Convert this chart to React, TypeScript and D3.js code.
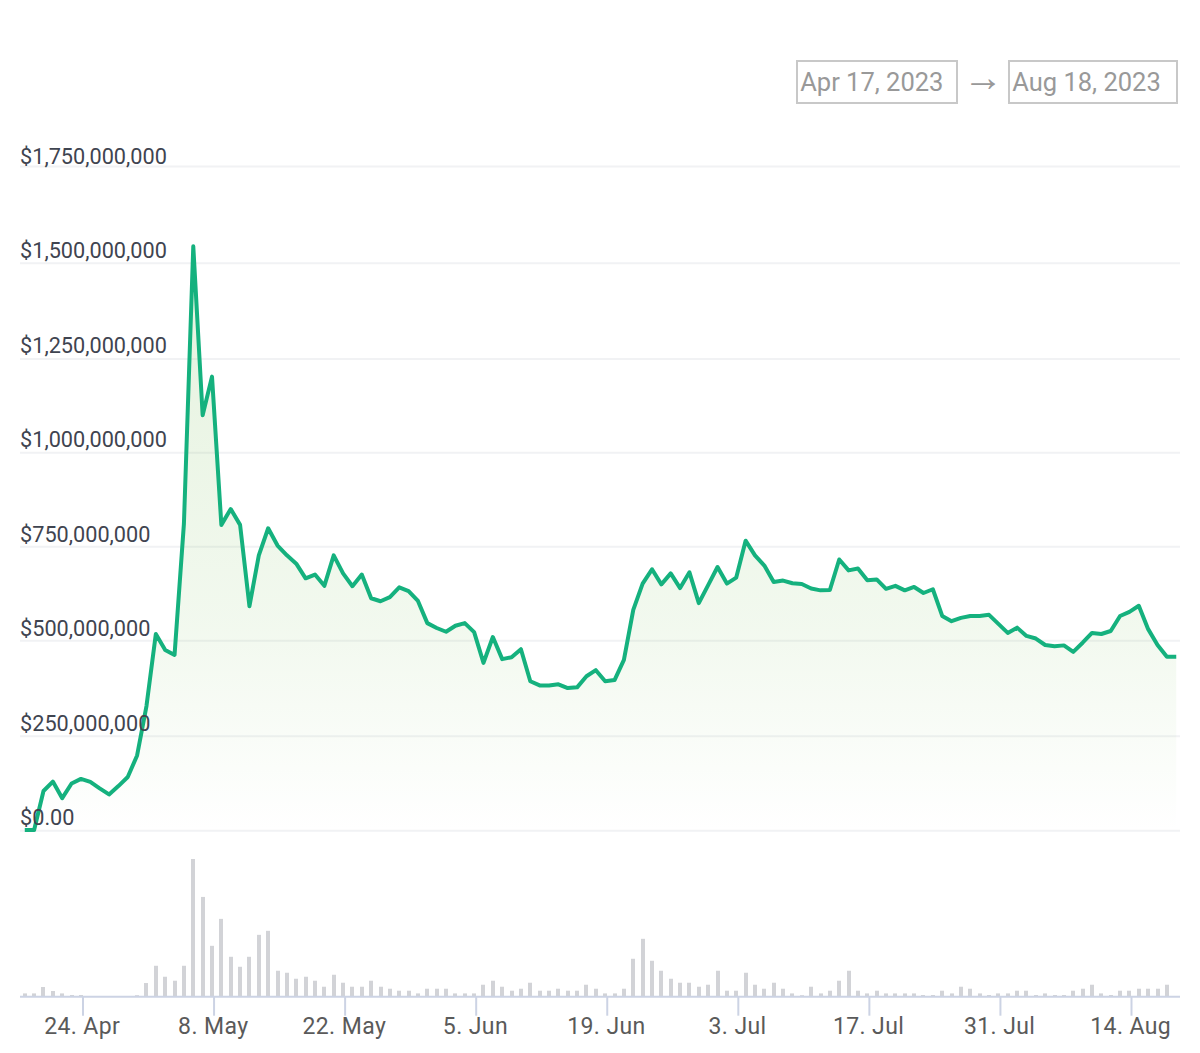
import { useEffect, useRef } from 'react';
import * as d3 from 'd3';

// daily values, Apr 18 to Aug 19 2023
const startDate = Date.UTC(2023, 3, 18);
const endDate = Date.UTC(2023, 7, 19);

// market cap, $ millions
const prices = [
  2, 2, 105, 130, 86, 125, 137, 129, 112, 96, 118, 142, 199,
  329, 518, 476, 463, 811, 1544, 1100, 1203, 808, 850, 808, 592, 727, 799, 753, 727, 705, 666, 676, 646, 727, 679, 645, 676, 613, 605, 616, 642, 632, 606, 547,
  534, 524, 540, 547, 523, 442, 510, 452, 457, 478, 394, 383, 383, 386, 376, 378, 407, 423, 394, 397, 450, 582, 652, 690, 650, 679, 640, 682, 600, 648,
  696, 652, 668, 766, 727, 700, 656, 660, 653, 651, 639, 634, 635, 716, 687, 692, 661, 663, 638, 646, 634, 643, 627, 637, 566, 552, 561, 566, 566, 569, 545,
  521, 535, 513, 506, 489, 486, 488, 471, 495, 521, 518, 526, 566, 577, 593, 531, 489, 458, 458,
];

// traded volume, relative units
const volumes = [
  3.3, 3.3, 9.7, 5.7, 3.3, 1.7, 1.7, 0, 0, 0, 0, 0, 1.5,
  13.7, 31, 20, 16, 31, 138, 100, 51, 78, 40, 30, 40, 62, 66, 26, 24, 18, 20, 16, 10, 22, 14, 10, 10, 16, 10, 8, 6, 6, 3.3, 8,
  8, 8, 3.3, 3.3, 3.3, 12, 16, 10, 6, 8, 14, 6, 6, 8, 6, 6, 12, 8, 3.3, 3.3, 8, 38, 58, 36, 26, 18, 14, 14, 10, 12,
  26, 6, 6, 24, 12, 8, 14, 8, 3.3, 1.5, 10, 3.3, 6, 16, 26, 6, 3.3, 6, 3.3, 3.3, 3.3, 3.3, 1.7, 1.7, 6, 3.3, 10, 8, 3.3, 1.7, 3.3,
  3.3, 6, 6, 1.7, 3.3, 1.7, 1.7, 6, 8, 12, 3.3, 1.7, 6, 6, 8, 8, 8, 12, 0,
];

const yTicks = [0, 250, 500, 750, 1000, 1250, 1500, 1750];
const yTickLabels = ['$0.00', '$250,000,000', '$500,000,000', '$750,000,000', '$1,000,000,000', '$1,250,000,000', '$1,500,000,000', '$1,750,000,000'];

const xTicks = [
  Date.UTC(2023, 3, 24), Date.UTC(2023, 4, 8), Date.UTC(2023, 4, 22), Date.UTC(2023, 5, 5), Date.UTC(2023, 5, 19),
  Date.UTC(2023, 6, 3), Date.UTC(2023, 6, 17), Date.UTC(2023, 6, 31), Date.UTC(2023, 7, 14),
];

const dateFrom = 'Apr 17, 2023';
const dateTo = 'Aug 18, 2023';

const FONT = 'Roboto, sans-serif';
const HOUR = 3600 * 1000;

export default function App() {
  const svgRef = useRef<SVGSVGElement>(null);

  useEffect(() => {
    const svg = d3.select(svgRef.current);
    svg.selectAll('*').remove();

    const days = d3.utcDay.range(new Date(startDate), new Date(endDate + HOUR));

    const x = d3.scaleUtc().domain([Date.UTC(2023, 3, 24), Date.UTC(2023, 7, 14)]).range([82.5, 1131]);
    // grid rows in the picture are not quite evenly spaced, so one stop per tick
    const y = d3.scaleLinear().domain(yTicks).range([830.7, 736.2, 640.8, 546.7, 452.7, 359, 263.3, 166.5]);
    const yLabel = d3.scaleLinear().domain([0, 1750]).range([825.2, 163.6]);
    const yVol = d3.scaleLinear().domain([0, 138]).range([996.7, 859]);

    // marks sit a little left of the tick marks
    const markX = (d: Date) => x(d.getTime() - 4 * HOUR);

    const defs = svg.append('defs');
    const grad = defs.append('linearGradient')
      .attr('id', 'areaFill')
      .attr('gradientUnits', 'userSpaceOnUse')
      .attr('x1', 0).attr('x2', 0)
      .attr('y1', y(1544)).attr('y2', y(0));
    grad.append('stop').attr('offset', 0).attr('stop-color', '#7cc05a').attr('stop-opacity', 0.2);
    grad.append('stop').attr('offset', 0.65).attr('stop-color', '#7cc05a').attr('stop-opacity', 0.1);
    grad.append('stop').attr('offset', 1).attr('stop-color', '#7cc05a').attr('stop-opacity', 0);

    // Grid
    svg.append('g')
      .selectAll('line')
      .data(yTicks)
      .join('line')
      .attr('x1', 20).attr('x2', 1180)
      .attr('y1', d => y(d)).attr('y2', d => y(d))
      .attr('stroke', '#f1f2f4')
      .attr('stroke-width', 2);

    // Area + line
    const area = d3.area<Date>()
      .x(markX)
      .y0(y(0))
      .y1((_, i) => y(prices[i]));
    svg.append('path').datum(days).attr('d', area).attr('fill', 'url(#areaFill)');

    const line = d3.line<Date>()
      .x(markX)
      .y((_, i) => y(prices[i]));
    svg.append('path')
      .datum(days)
      .attr('d', line)
      .attr('fill', 'none')
      .attr('stroke', '#15b17e')
      .attr('stroke-width', 4)
      .attr('stroke-linejoin', 'round');

    // Volume bars
    svg.append('g')
      .selectAll('rect')
      .data(days)
      .join('rect')
      .attr('x', d => Math.round(markX(d)) - 2)
      .attr('width', 4)
      .attr('y', (_, i) => yVol(volumes[i]))
      .attr('height', (_, i) => yVol(0) - yVol(volumes[i]))
      .attr('fill', '#d2d3d7');

    // X axis
    const xAxis = d3.axisBottom(x)
      .tickValues(xTicks.map(t => new Date(t)))
      .tickFormat(d3.utcFormat('%-d. %b') as any)
      .tickSize(19)
      .tickSizeOuter(0)
      .tickPadding(1.5);
    const gx = svg.append('g').attr('transform', `translate(0,${yVol(0)})`).call(xAxis as any);
    gx.select('.domain').remove();
    gx.selectAll('line').attr('stroke', '#ccd3e4').attr('stroke-width', 2);
    gx.selectAll('text')
      .attr('dx', -0.8)
      .attr('fill', '#5a5a5a')
      .style('font-family', FONT)
      .style('font-size', '23px')
      .style('letter-spacing', '0.4px');
    gx.append('line')
      .attr('x1', 20).attr('x2', 1180)
      .attr('stroke', '#ccd3e4').attr('stroke-width', 2);

    // Y labels go on top of the line
    svg.append('g')
      .selectAll('text')
      .data(yTicks)
      .join('text')
      .attr('x', 20)
      .attr('y', d => yLabel(d))
      .attr('fill', '#3f4450')
      .style('font-family', FONT)
      .style('font-size', '21.7px')
      .text((_, i) => yTickLabels[i]);

    // Date range inputs
    const inputs = [
      { label: dateFrom, left: 797, w: 160 },
      { label: dateTo, left: 1009, w: 168 },
    ];
    const g = svg.append('g');
    inputs.forEach(b => {
      g.append('rect')
        .attr('x', b.left).attr('y', 61)
        .attr('width', b.w).attr('height', 42)
        .attr('fill', '#fff')
        .attr('stroke', '#c8c8c8')
        .attr('stroke-width', 2);
      g.append('text')
        .attr('x', b.left + 3.2).attr('y', 91)
        .attr('fill', '#999')
        .style('font-family', FONT)
        .style('font-size', '25.5px')
        .text(b.label);
    });
    g.append('text')
      .attr('x', 983).attr('y', 90.5)
      .attr('text-anchor', 'middle')
      .attr('fill', '#999')
      .style('font-family', '"Liberation Serif", serif')
      .style('font-size', '40px')
      .text('→');
  }, []);

  return (
    <svg
      ref={svgRef}
      width={1200}
      height={1053}
      style={{ position: 'absolute', left: 0, top: 0, display: 'block', background: '#fff' }}
    />
  );
}
